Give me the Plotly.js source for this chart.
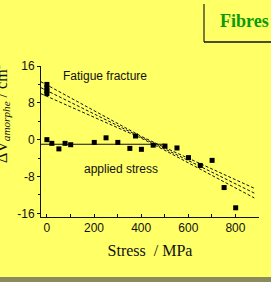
<!DOCTYPE html>
<html>
<head>
<meta charset="utf-8">
<script src="https://cdn.plot.ly/plotly-3.0.1.min.js"></script>
<style>
html,body{margin:0;padding:0;background:#ffff66;overflow:hidden;}
#chart{width:271px;height:282px;}
</style>
</head>
<body>
<div id="chart"></div>
<script>
// Measured points: stress (MPa) vs ΔV amorphe
var stress = [0, 0, 0, 0, 0, 21, 51, 77, 101, 201, 251, 301, 352, 376, 401, 451, 501, 552, 601, 651, 701, 752, 801];
var deltaV = [12.0, 11.2, 10.6, 10.0, 0.0, -0.8, -2.0, -0.8, -1.1, -0.6, 0.4, -0.6, -1.9, 0.8, -2.1, -1.2, -1.4, -1.8, -3.9, -5.6, -4.5, -10.4, -14.8];

// Horizontal fit for applied stress
var flatX = [-25, 500];
var flatY = [-1.0, -1.0];

// Fatigue-fracture fit and its bands
var fitX = [-25, 100, 200, 300, 400, 500, 600, 700, 800, 880];
var fitMid = [11.28, 8.12, 5.59, 3.06, 0.53, -2.0, -4.53, -7.06, -9.59, -11.61];
var fitUp = [12.58, 9.12, 6.29, 3.46, 0.73, -1.7, -4.03, -6.36, -8.69, -10.56];
var fitLow = [9.98, 7.12, 4.89, 2.66, 0.33, -2.3, -5.03, -7.76, -10.49, -12.66];

var xTicks = [0, 200, 400, 600, 800];
var yTicks = [-16, -8, 0, 8, 16];

var dashLine = {color: '#111', width: 1, dash: '3px,2px'};
var traces = [
  {x: fitX, y: fitUp, mode: 'lines', line: dashLine, hoverinfo: 'skip'},
  {x: fitX, y: fitMid, mode: 'lines', line: dashLine, hoverinfo: 'skip'},
  {x: fitX, y: fitLow, mode: 'lines', line: dashLine, hoverinfo: 'skip'},
  {x: flatX, y: flatY, mode: 'lines', line: {color: '#111', width: 1}},
  {x: stress, y: deltaV, mode: 'markers', marker: {symbol: 'square', size: 5, color: '#000'}}
];

var L = 41, R = 12, T = 66, B = 65;
var pw = 271 - L - R, ph = 282 - T - B;
function px(x) { return (x - L) / pw; }
function py(y) { return (282 - B - y) / ph; }

var layout = {
  width: 271, height: 282,
  margin: {l: L, r: R, t: T, b: B, pad: 0},
  paper_bgcolor: '#ffff66',
  plot_bgcolor: '#ffff66',
  showlegend: false,
  font: {family: 'Liberation Sans, Arial, sans-serif', size: 12, color: '#111'},
  xaxis: {
    range: [-25, 900], tickvals: xTicks, ticktext: xTicks.map(String),
    ticks: 'inside', ticklen: 3, tickwidth: 1, tickcolor: '#111',
    minor: {dtick: 100, tick0: 0, ticks: 'inside', ticklen: 3, tickcolor: '#111', showgrid: false},
    showline: true, linecolor: '#111', linewidth: 1, showgrid: false, zeroline: false,
    tickfont: {size: 12},
    title: {text: 'Stress  / MPa', font: {family: 'Liberation Serif, Times New Roman, serif', size: 16, color: '#111'}, standoff: 10}
  },
  yaxis: {
    range: [-16.8, 16], tickvals: yTicks, ticktext: yTicks.map(String),
    ticks: 'outside', ticklen: 3, tickwidth: 1, tickcolor: '#111',
    minor: {dtick: 4, tick0: 0, ticks: 'outside', ticklen: 2, tickcolor: '#111', showgrid: false},
    showline: true, linecolor: '#111', linewidth: 1, showgrid: false, zeroline: false,
    tickfont: {size: 12}
  },
  annotations: [
    {xref: 'x', yref: 'y', x: 60, y: 13.8, xanchor: 'left', yanchor: 'middle', text: 'Fatigue fracture', showarrow: false, font: {size: 12}},
    {xref: 'x', yref: 'y', x: 314, y: -6.4, xanchor: 'center', yanchor: 'middle', text: 'applied stress', showarrow: false, font: {size: 12}},
    {xref: 'paper', yref: 'paper', x: px(1), y: py(165), xanchor: 'center', yanchor: 'bottom', textangle: -90,
     text: '\u0394V<sub><i>amorphe</i></sub> / cm<sup>3</sup>', showarrow: false,
     font: {family: 'Liberation Serif, Times New Roman, serif', size: 16, color: '#111'}},
    {xref: 'paper', yref: 'paper', x: px(244.5), y: py(21), xanchor: 'center', yanchor: 'middle', text: '<b>Fibres</b>', showarrow: false,
     font: {family: 'Liberation Serif, Times New Roman, serif', size: 18, color: '#0a9a0a'}}
  ],
  shapes: [
    {type: 'line', xref: 'paper', yref: 'paper', x0: px(204), x1: px(204), y0: py(4), y1: py(42), line: {color: '#7a7a3a', width: 2}},
    {type: 'line', xref: 'paper', yref: 'paper', x0: px(204), x1: px(272), y0: py(42), y1: py(42), line: {color: '#111', width: 1.5}},
    {type: 'rect', xref: 'paper', yref: 'paper', x0: px(-2), x1: px(273), y0: py(277), y1: py(283), line: {width: 0}, fillcolor: '#8a8a5e'}
  ]
};

Plotly.newPlot('chart', traces, layout, {staticPlot: true, displayModeBar: false});
</script>
</body>
</html>
